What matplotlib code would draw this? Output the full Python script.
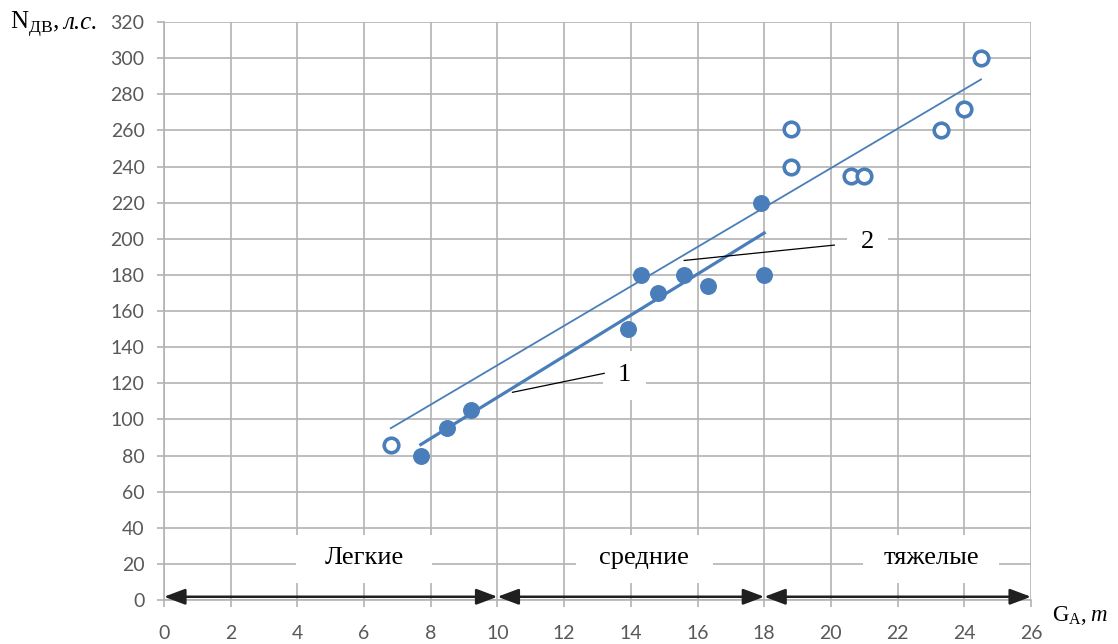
import numpy as np
import matplotlib
matplotlib.use("Agg")
import matplotlib.pyplot as plt
from matplotlib.patches import Rectangle

# filled points (curve 1) and open points (curve 2)
x_filled = [7.7, 8.5, 9.2, 13.9, 14.3, 14.8, 15.6, 16.3, 17.9, 18.0]
y_filled = [80, 95, 105, 150, 180, 170, 180, 174, 220, 180]
x_open = [6.8, 18.8, 18.8, 20.6, 21.0, 23.3, 24.0, 24.5]
y_open = [86, 261, 240, 235, 235, 260, 272, 300]

groups = ["Легкие", "средние", "тяжелые"]
group_bounds = [0, 10, 18, 26]
group_label_x = [6.0, 14.4, 23.0]

blue = "#4a7ebb"
grid_c = "#b3b3b3"
serif = "Liberation Serif"

fig = plt.figure(figsize=(11.18, 6.44), dpi=100)
ax = fig.add_axes([0.1467, 0.0683, 0.9222 - 0.1467, 0.9658 - 0.0683])

ax.set_xlim(0, 26)
ax.set_ylim(0, 320)
ax.set_xticks(np.arange(0, 27, 2))
ax.set_yticks(np.arange(0, 321, 20))
ax.grid(True, color=grid_c, lw=1.2)
ax.set_axisbelow(True)
for s in ax.spines.values():
    s.set_visible(False)
for side in ["left", "bottom"]:
    ax.spines[side].set_visible(True)
    ax.spines[side].set_color(grid_c)
    ax.spines[side].set_linewidth(1.2)
ax.tick_params(colors=grid_c, length=5, width=1.2,
               labelcolor="#595959", labelsize=14)
ax.tick_params(axis="y", pad=9)
ax.tick_params(axis="x", pad=13)
for lb in ax.get_xticklabels() + ax.get_yticklabels():
    lb.set_family("Lato")

# trend lines (least squares)
k1, b1 = np.polyfit(x_filled, y_filled, 1)
xs1 = np.array([min(x_filled), max(x_filled)])
ax.plot(xs1, k1 * xs1 + b1, color=blue, lw=2.3, zorder=3)
k2, b2 = np.polyfit(x_open, y_open, 1)
xs2 = np.array([min(x_open), max(x_open)])
ax.plot(xs2, k2 * xs2 + b2, color=blue, lw=1.3, zorder=3)

ax.scatter(x_filled, y_filled, s=125, color=blue, zorder=4)
ax.scatter(x_open, y_open, s=110, facecolor="white", edgecolor=blue,
           linewidth=2.6, zorder=4)

# leaders and numbers (white text boxes over the grid)
ax.plot([10.45, 13.2], [115, 125.5], color="black", lw=0.9, zorder=5)
ax.add_patch(Rectangle((13.8 - 0.65, 124.5 - 13.5), 1.3, 27, fc="white",
                       ec="none", zorder=2))
ax.text(13.8, 124.5, "1", fontsize=19, family=serif, ha="center",
        va="center", zorder=6)
ax.plot([15.6, 20.1], [188, 196.5], color="black", lw=0.9, zorder=5)
ax.add_patch(Rectangle((21.1 - 0.62, 198 - 13.5), 1.24, 27, fc="white",
                       ec="none", zorder=2))
ax.text(21.1, 198, "2", fontsize=19, family=serif, ha="center",
        va="center", zorder=6)

# weight groups
for i, name in enumerate(groups):
    cx = group_label_x[i]
    ax.add_patch(Rectangle((cx - 2.05, 9.5), 4.1, 26.5, fc="white",
                           ec="none", zorder=2))
    ax.text(cx, 23, name, fontsize=19, family=serif, ha="center",
            va="center", zorder=6)
    ax.annotate("", xy=(group_bounds[i], 1.8),
                xytext=(group_bounds[i + 1], 1.8),
                arrowprops=dict(arrowstyle="<|-|>,head_length=0.8,head_width=0.3",
                                color="#202020", lw=1.8,
                                mutation_scale=16, shrinkA=0, shrinkB=0),
                zorder=6)


def label_pair(x, y, main, tail, size):
    t1 = fig.text(x, y, main, fontsize=size, family=serif, ha="left",
                  va="baseline")
    fig.canvas.draw()
    bb = t1.get_window_extent().transformed(fig.transFigure.inverted())
    fig.text(bb.x1 + 0.003, y, tail, fontsize=size, family=serif,
             style="italic", ha="left", va="baseline")


label_pair(0.009, 0.955, r"N$_{\mathregular{ДВ}}$,", "л.с.", 18)
label_pair(0.941, 0.036, r"G$_{\mathregular{A}}$,", "m", 16.5)

fig.savefig("out.png", dpi=100)
